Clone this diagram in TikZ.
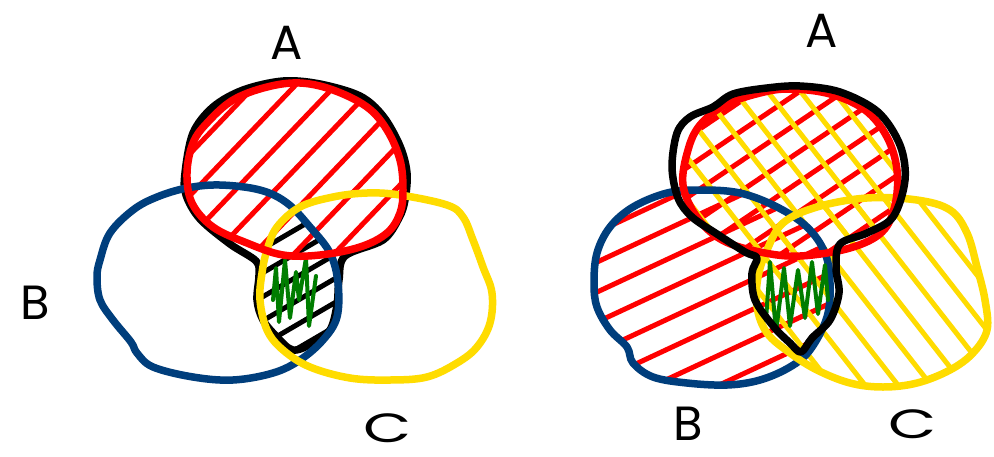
\documentclass[tikz,border=0pt]{standalone}
\usepackage{graphicx}
\usepackage{fontspec}
\setmainfont{Poppins}
\definecolor{vred}{RGB}{255,0,0}
\definecolor{vblue}{RGB}{0,62,124}
\definecolor{vyellow}{RGB}{255,220,0}
\definecolor{vgreen}{RGB}{0,125,0}
% left shapes
\def\LA{plot[smooth cycle,tension=0.6] coordinates {(187,173)(193,143)(207,123)(233,100)(267,87)(300,83)(333,90)(367,107)(387,130)(400,160)(403,190)(400,213)(387,233)(360,247)(320,255)(283,255)(247,243)(213,227)(192,203)}}
\def\LK{plot[smooth cycle,tension=0.55] coordinates {(185,173)(193,133)(213,107)(243,90)(283,81)(320,84)(360,96)(383,116)(400,146)(407,173)(405,200)(399,218)(383,240)(345,256)(339,280)(337,305)(330,330)(313,343)(293,350)(277,337)(263,320)(257,300)(259,275)(256,261)(230,244)(200,219)(186,195)}}
\def\LB{plot[smooth cycle,tension=0.6] coordinates {(100,260)(110,233)(133,210)(157,197)(187,188)(220,185)(260,190)(287,203)(310,227)(330,253)(338,283)(337,317)(323,340)(300,360)(273,373)(233,380)(193,377)(153,367)(137,353)(131,342)(113,320)(100,300)(97,277)}}
\def\LC{plot[smooth cycle,tension=0.6] coordinates {(267,250)(277,227)(300,207)(333,197)(367,193)(400,195)(447,205)(463,217)(473,240)(483,267)(492,293)(490,323)(477,347)(457,363)(427,377)(390,380)(350,378)(310,367)(283,350)(267,330)(260,300)(262,273)}}
% right shapes
\def\RA{plot[smooth cycle,tension=0.6] coordinates {(683,185)(688,150)(700,125)(725,105)(760,93)(790,89)(830,94)(865,110)(887,137)(897,170)(895,205)(882,232)(850,248)(800,256)(760,252)(722,240)(697,217)}}
\def\RK{plot[smooth cycle,tension=0.55] coordinates {(672,167)(677,133)(690,117)(713,107)(733,94)(767,88)(800,86)(840,92)(878,112)(900,145)(905,180)(893,217)(867,233)(840,244)(836,268)(839,293)(830,320)(812,338)(801,352)(790,343)(774,327)(755,300)(752,273)(757,258)(745,252)(717,234)(692,217)(678,198)}}
\def\RB{plot[smooth cycle,tension=0.6] coordinates {(597,253)(610,227)(633,207)(667,193)(700,190)(740,193)(777,207)(807,227)(825,253)(830,283)(827,317)(810,350)(790,367)(760,380)(727,385)(687,383)(653,377)(633,363)(627,347)(610,330)(597,307)(594,283)}}
\def\RC{plot[smooth cycle,tension=0.6] coordinates {(767,250)(783,223)(817,207)(867,198)(917,200)(950,210)(967,233)(977,267)(985,300)(987,330)(973,353)(950,370)(917,383)(883,387)(850,383)(817,370)(790,353)(767,333)(757,307)(758,277)}}
\begin{document}
\begin{tikzpicture}[x=1pt,y=-1pt,line cap=round,line join=round,
  outline/.style={line width=7.5pt},
  hatchline/.style={line width=5pt},
  scribble/.style={line width=4pt,vgreen},
  lbl/.style={font=\fontsize{48}{48}\selectfont,text=black,inner sep=0pt}]
\useasboundingbox[fill=white] (0,0) rectangle (994,456);

% ================= LEFT =================
\draw[outline,black] \LK;
% black hatch in B and C
\begin{scope}
  \clip \LB;
  \clip \LC;
  \foreach \y in {238,262,...,400}
    \draw[hatchline,black] (240,\y) -- ++(120,-70);
\end{scope}
% green scribble
\draw[scribble] (273,300) -- (276,268) -- (279,322) -- (285,260) -- (290,318) -- (296,272) -- (299,300) -- (306,258) -- (309,326) -- (316,276);
% red hatch in A
\begin{scope}
  \clip \LA;
  \foreach \x in {-30,10,...,370}
    \draw[hatchline,vred] (\x,300) -- ++(220,-230);
\end{scope}
\draw[outline,vblue] \LB;
\draw[outline,vyellow] \LC;
\draw[outline,vred] \LA;

% ================= RIGHT =================
% red hatch in A and B
\begin{scope}
  \clip \RA;
  \foreach \y in {150,180,...,560}
    \draw[hatchline,vred] (580,\y) -- ++(340,-230);
\end{scope}
\begin{scope}
  \clip \RB;
  \foreach \y in {180,210,...,500}
    \draw[hatchline,vred] (580,\y) -- ++(300,-140);
\end{scope}
% yellow hatch in A and C
\begin{scope}
  \clip \RA;
  \foreach \x in {545,578,...,840}
    \draw[hatchline,vyellow] (\x,60) -- ++(300,384);
\end{scope}
\begin{scope}
  \clip \RC;
  \foreach \x in {545,578,...,840}
    \draw[hatchline,vyellow] (\x,60) -- ++(300,384);
\end{scope}
\draw[outline,vblue] \RB;
\draw[outline,vyellow] \RC;
\draw[outline,vred] \RA;
\draw[scribble] (766,320) -- (770,262) -- (776,332) -- (784,268) -- (790,326) -- (798,270) -- (805,318) -- (812,262) -- (818,314) -- (825,265) -- (828,300);
\draw[outline,black] \RK;

% ================= LABELS =================
\node[lbl] (la) at (287,43) {A};
\node[lbl] (lb) at (35,303) {B};
\node[lbl] (lc) at (388,428) {\scalebox{1.3}[0.85]{C}};
\node[lbl] (ra) at (822,31) {A};
\node[lbl] (rb) at (688,424) {B};
\node[lbl] (rc) at (913,424) {\scalebox{1.3}[0.85]{C}};
\end{tikzpicture}
\end{document}
